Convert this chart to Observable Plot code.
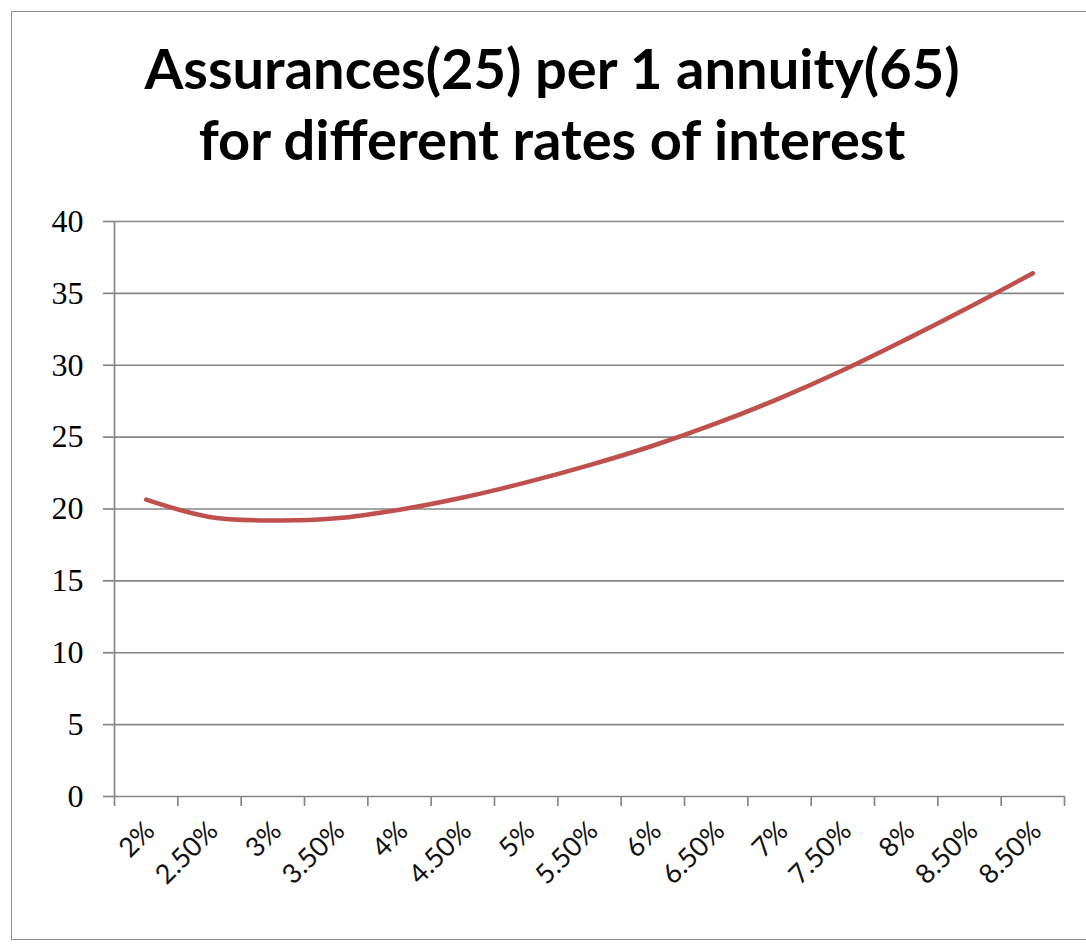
<!DOCTYPE html>
<html>
<head>
<meta charset="utf-8">
<script src="https://cdn.jsdelivr.net/npm/d3@7"></script>
<script src="https://cdn.jsdelivr.net/npm/@observablehq/plot@0.6"></script>
<style>
  html, body { margin: 0; padding: 0; background: #fff; }
  #page { position: relative; width: 1086px; height: 949px; overflow: hidden; }
  #frame { position: absolute; left: 11px; top: 11px; width: 1100px; height: 929px;
           border: 1.5px solid #8e8e8e; box-sizing: border-box; }
  #title { position: absolute; left: 14px; width: 1076px; top: 32px; text-align: center;
           font-family: Lato, "Open Sans", sans-serif; font-weight: bold; font-size: 56px;
           line-height: 71px; color: #000; }
  #plot { position: absolute; left: 0; top: 0; }
</style>
</head>
<body>
<div id="page">
  <div id="frame"></div>
  <div id="title">Assurances(25) per 1 annuity(65)<br>for different rates of interest</div>
  <div id="plot"></div>
</div>
<script>
// Interest-rate categories as labelled on the axis
const rateLabels = ["2%", "2.50%", "3%", "3.50%", "4%", "4.50%", "5%", "5.50%",
                    "6%", "6.50%", "7%", "7.50%", "8%", "8.50%", "8.50%"];
// Number of assurances at age 25 per one annuity at age 65
const assurances = [20.65, 19.45, 19.2, 19.35, 19.95, 20.8, 21.85, 23.05,
                    24.4, 25.95, 27.7, 29.65, 31.8, 34.05, 36.4];
// Value-axis ticks
const yTicks = [0, 5, 10, 15, 20, 25, 30, 35, 40];

const idx = rateLabels.map((_, i) => i);
const boundaries = d3.range(-0.5, rateLabels.length, 1);
const rows = assurances.map((v, i) => ({i, v}));

const gridColor = "#868686";

const chart = Plot.plot({
  width: 1086,
  height: 949,
  marginLeft: 114,
  marginRight: 22,
  marginTop: 221,
  marginBottom: 153,
  x: {domain: [-0.5, rateLabels.length - 0.5], axis: null},
  y: {domain: [0, 40], axis: null},
  style: {background: "transparent", overflow: "visible"},
  marks: [
    Plot.ruleY(yTicks.filter(d => d > 0), {stroke: gridColor, strokeWidth: 1.7}),
    Plot.axisY(yTicks, {
      label: null, tickSize: 11, tickPadding: 20, stroke: gridColor, strokeWidth: 1.7,
      fontSize: 32, fontFamily: "Liberation Serif, serif", fill: "#000"
    }),
    Plot.ruleX([-0.5], {stroke: gridColor, strokeWidth: 1.7}),
    Plot.ruleY([0], {stroke: gridColor, strokeWidth: 1.7}),
    Plot.axisX(boundaries, {label: null, tickSize: 10, tickFormat: () => "", stroke: gridColor, strokeWidth: 1.7}),
    Plot.axisX(idx, {
      label: null, tickSize: 0, tickPadding: 30, tickRotate: -45, dx: 4,
      tickFormat: i => rateLabels[i],
      fontSize: 27, fontFamily: "Lato, sans-serif", fill: "#111"
    }),
    Plot.line(rows, {x: "i", y: "v", stroke: "#c0504d", strokeWidth: 4.5, curve: "catmull-rom"})
  ]
});

document.getElementById("plot").appendChild(chart);
</script>
</body>
</html>
